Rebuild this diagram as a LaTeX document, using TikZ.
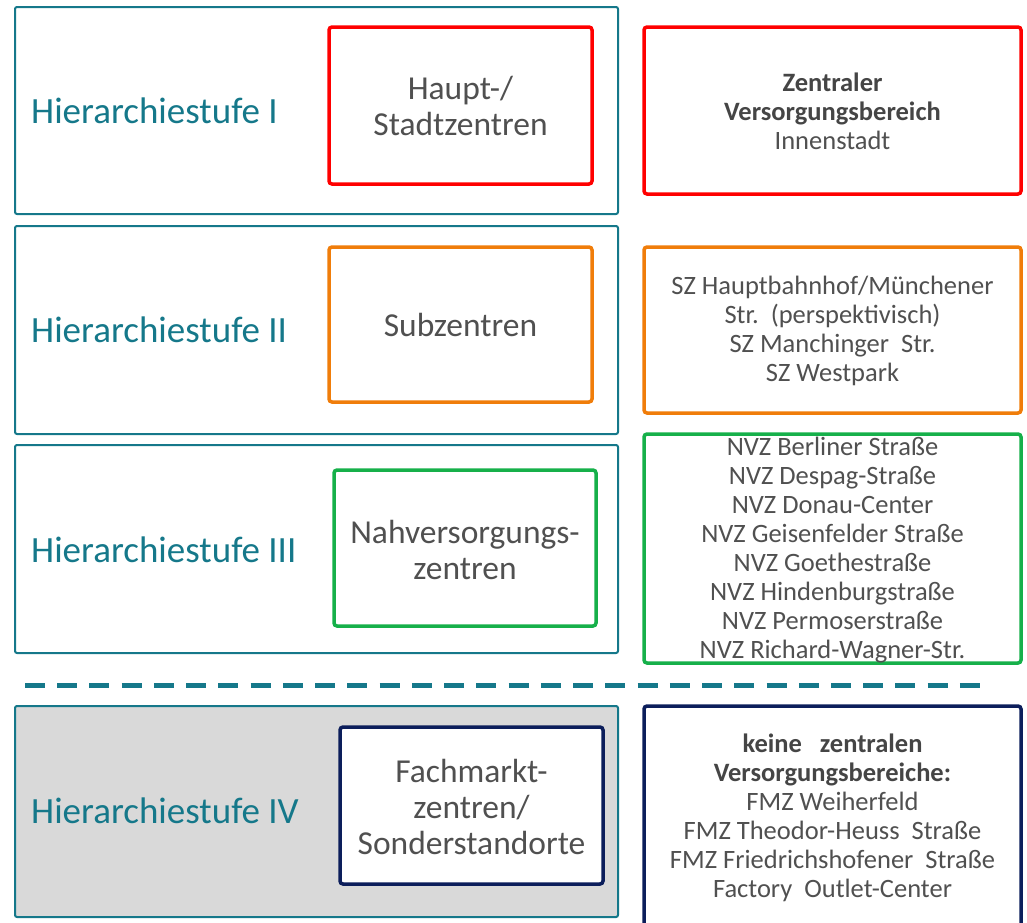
\documentclass[tikz,border=0pt]{standalone}
\usepackage{fontspec}
\setmainfont{Carlito}
\definecolor{tealc}{HTML}{15788A}
\definecolor{txtgray}{HTML}{505050}
\definecolor{boldgray}{HTML}{454545}
\definecolor{redc}{HTML}{FF0000}
\definecolor{orangec}{HTML}{F07D0A}
\definecolor{greenc}{HTML}{16B04A}
\definecolor{navyc}{HTML}{0C1E5B}
\definecolor{fillgray}{HTML}{D9D9D9}
\begin{document}
\begin{tikzpicture}[x=1pt,y=-1pt,
  outer/.style={draw=tealc, line width=2pt, rounded corners=2pt, inner sep=0pt},
  inner/.style={line width=3.5pt, rounded corners=3pt, fill=white, inner sep=0pt},
  lbl/.style={text=tealc, anchor=west, inner sep=0pt, font=\fontsize{37}{40}\selectfont},
  boxtxt/.style={text=txtgray, align=center, font=\fontsize{33.5}{36}\selectfont},
  listtxt/.style={text=txtgray, align=center, font=\fontsize{26.5}{29}\selectfont},
  sep/.style={draw=tealc, line width=5pt, dash pattern=on 20pt off 12.24pt}]
\useasboundingbox (0,0) rectangle (1027,922);
\clip (0,0) rectangle (1027,922);
% outer rows
\node[outer, minimum width=603pt, minimum height=207pt] (o1) at (316.5,110.5) {};
\node[outer, minimum width=603pt, minimum height=208pt] (o2) at (316.5,330) {};
\node[outer, minimum width=603pt, minimum height=208pt] (o3) at (316.5,549) {};
\node[outer, fill=fillgray, minimum width=603pt, minimum height=211pt] (o4) at (316.5,811.5) {};
% labels
\node[lbl] (l1) at (31,111) {Hierarchiestufe I};
\node[lbl] (l2) at (31,330) {Hierarchiestufe II};
\node[lbl] (l3) at (31,550) {Hierarchiestufe III};
\node[lbl] (l4) at (31,811) {Hierarchiestufe IV};
% inner boxes
\node[inner, draw=redc, minimum width=263pt, minimum height=157pt] (i1) at (460.5,105.5) {};
\node[boxtxt] (t1) at (460.5,106) {Haupt-/\\Stadtzentren};
\node[inner, draw=orangec, minimum width=263pt, minimum height=155pt] (i2) at (460.5,324.5) {};
\node[boxtxt] (t2) at (460.5,325) {Subzentren};
\node[inner, draw=greenc, minimum width=262pt, minimum height=156pt] (i3) at (465,548) {};
\node[boxtxt] (t3) at (465,550) {Nahversorgungs-\\zentren};
\node[inner, draw=navyc, minimum width=263pt, minimum height=157pt] (i4) at (471.5,805.5) {};
\node[boxtxt] (t4) at (471.5,807) {Fachmarkt-\\zentren/\\Sonderstandorte};
% right boxes
\node[inner, draw=redc, minimum width=377pt, minimum height=167pt] (r1) at (832.5,110.5) {};
\node[listtxt] (s1) at (832.5,111) {{\bfseries\color{boldgray}Zentraler}\\{\bfseries\color{boldgray}Versorgungsbereich}\\Innenstadt};
\node[inner, draw=orangec, minimum width=377pt, minimum height=166pt] (r2) at (832.5,330) {};
\node[listtxt] (s2) at (832.5,331) {SZ Hauptbahnhof/Münchener\\Str.~~(perspektivisch)\\SZ Manchinger~~Str.\\SZ Westpark};
\node[inner, draw=greenc, minimum width=377pt, minimum height=229pt] (r3) at (832.5,548.5) {};
\node[listtxt] (s3) at (832.5,550) {NVZ Berliner Straße\\NVZ Despag-Straße\\NVZ Donau-Center\\NVZ Geisenfelder Straße\\NVZ Goethestraße\\NVZ Hindenburgstraße\\NVZ Permoserstraße\\NVZ Richard-Wagner-Str.};
\node[inner, draw=navyc, minimum width=377pt, minimum height=229pt] (r4) at (832.5,820.5) {};
\node[listtxt] (s4) at (832.5,817.5) {{\bfseries\color{boldgray}keine~~~zentralen}\\{\bfseries\color{boldgray}Versorgungsbereiche:}\\FMZ Weiherfeld\\FMZ Theodor-Heuss~~Straße\\FMZ Friedrichshofener~~Straße\\Factory~~Outlet-Center};
% dashed separator
\coordinate (d1) at (25,685);
\coordinate (d2) at (980,685);
\draw[sep] (d1) -- (d2);
\end{tikzpicture}
\end{document}
